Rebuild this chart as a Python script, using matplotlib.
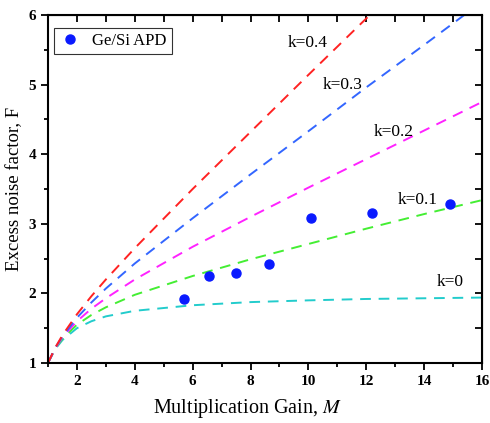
import matplotlib.pyplot as plt
from matplotlib.ticker import MultipleLocator

# measured points
gain = [5.7, 6.55, 7.5, 8.65, 10.1, 12.2, 14.9]
noise = [1.92, 2.25, 2.29, 2.42, 3.09, 3.15, 3.28]

# dashed curves
m_pts = [1, 1.25, 1.5, 2, 2.5, 3, 4, 6, 8, 10, 12, 14, 16]
f_k0 = [1, 1.20, 1.33, 1.50, 1.60, 1.67, 1.75, 1.83, 1.875, 1.90, 1.92, 1.93, 1.94]
f_k01 = [1, 1.21, 1.35, 1.55, 1.69, 1.80, 1.98, 2.25, 2.49, 2.71, 2.93, 3.14, 3.34]
f_k02 = [1, 1.21, 1.37, 1.60, 1.78, 1.93, 2.20, 2.67, 3.10, 3.52, 3.93, 4.34, 4.75]
f_k03 = [1, 1.22, 1.38, 1.65, 1.87, 2.07, 2.43, 3.08, 3.71, 4.33, 4.96, 5.57, 6.19]
f_k04 = [1, 1.22, 1.40, 1.70, 1.96, 2.20, 2.65, 3.50, 4.32, 5.14, 5.95, 6.77, 7.58]

curves = [f_k0, f_k01, f_k02, f_k03, f_k04]
colors = ['#22cccc', '#44ee33', '#ff22ff', '#3366ff', '#ff2222']
labels = ['k=0', 'k=0.1', 'k=0.2', 'k=0.3', 'k=0.4']
label_pos = [(14.45, 2.16), (13.1, 3.34), (12.25, 4.32), (10.5, 5.0), (9.3, 5.6)]

plt.rcParams['font.family'] = ['Liberation Serif', 'DejaVu Serif']
plt.rcParams['mathtext.fontset'] = 'stix'

fig = plt.figure(figsize=(4.9, 4.23), dpi=100)
ax = fig.add_axes([48 / 490, 1 - 363 / 423, 434 / 490, 348 / 423])

for f, c in zip(curves, colors):
    ax.plot(m_pts, f, color=c, lw=1.4, linestyle=(0, (5.5, 4)))

for (x, y), t in zip(label_pos, labels):
    ax.text(x, y, t, fontsize=12.5, va='center', ha='left')

ax.plot(gain, noise, 'o', color='#0a1aff', markersize=6.5, label='Ge/Si APD')

ax.set_xlim(1, 16)
ax.set_ylim(1, 6)
ax.xaxis.set_major_locator(MultipleLocator(2))
ax.xaxis.set_minor_locator(MultipleLocator(1))
ax.yaxis.set_major_locator(MultipleLocator(1))
ax.yaxis.set_minor_locator(MultipleLocator(0.5))
ax.tick_params(which='both', direction='out', width=1.3, labelsize=11)
ax.tick_params(which='major', length=5)
ax.tick_params(which='minor', length=3)
for lbl in ax.get_xticklabels() + ax.get_yticklabels():
    lbl.set_fontweight('bold')

# top and right ticks point inward
ax2 = ax.secondary_xaxis('top')
ax2.xaxis.set_major_locator(MultipleLocator(1))
ax2.tick_params(direction='in', length=5, width=1.3, labelsize=0)
ax2.set_xticklabels([])
ax3 = ax.secondary_yaxis('right')
ax3.yaxis.set_major_locator(MultipleLocator(0.5))
ax3.tick_params(direction='in', length=5, width=1.3)
ax3.set_yticklabels([])

for s in ax.spines.values():
    s.set_linewidth(1.5)

ax.set_xlabel('Multiplication Gain, $\\mathit{M}$', fontsize=14.5)
ax.xaxis.set_label_coords(0.46, -0.098)
ax.set_ylabel('Excess noise factor, F', fontsize=13.5)

leg = ax.legend(loc='upper left', fontsize=12, fancybox=False, edgecolor='black',
                handletextpad=0.7, borderpad=0.3, handlelength=1.3,
                borderaxespad=0, bbox_to_anchor=(0.014, 0.963))
leg.get_frame().set_linewidth(0.8)

fig.savefig('out.png', dpi=100)
